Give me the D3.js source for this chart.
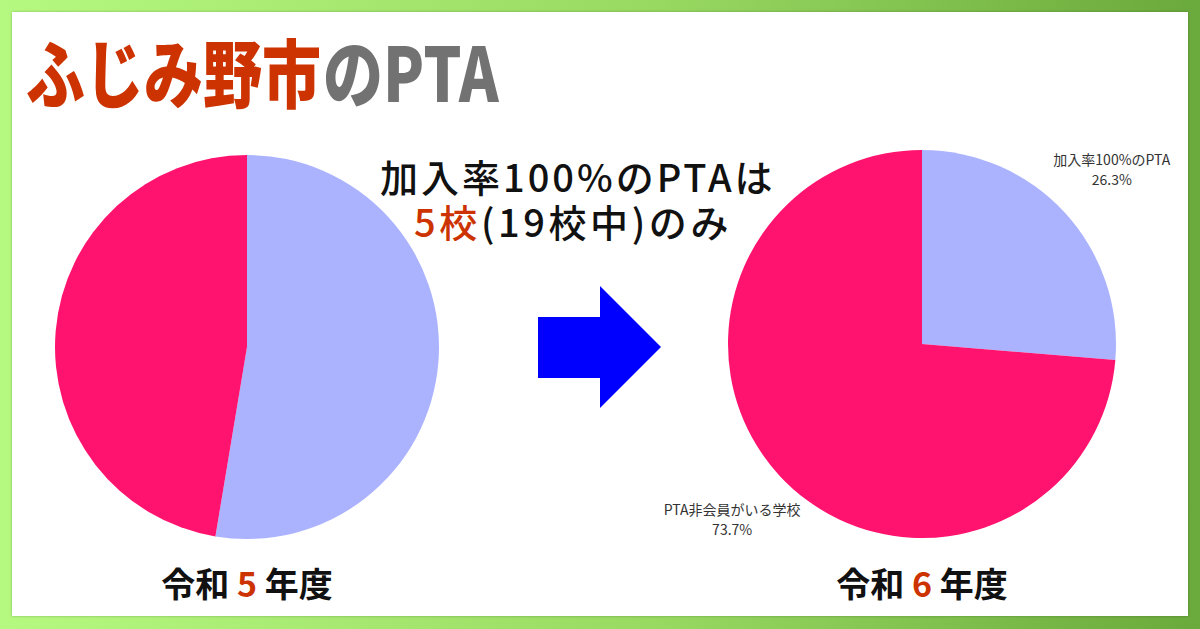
<!DOCTYPE html>
<html>
<head>
<meta charset="utf-8">
<script src="https://cdn.jsdelivr.net/npm/d3@7"></script>
<style>
  html, body { margin: 0; padding: 0; background: #fff; }
  svg { display: block; font-family: "Noto Sans CJK JP", "Noto Sans", sans-serif; }
</style>
</head>
<body>
<div id="grafico"></div>
<script>
// Datos del grafico
const categorias = ["加入率100%のPTA", "PTA非会員がいる学校"]
const valoresR5 = [10, 9]
const valoresR6 = [5, 14]
const colores = ["#abb3ff", "#ff136f"]
const anios = ["5", "6"]

const anchoTotal = 1200
const altoTotal = 629

const svg = d3.select("#grafico")
  .append("svg")
  .attr("width", anchoTotal)
  .attr("height", altoTotal)

// Fondo con degradado verde
const defs = svg.append("defs")
const grad = defs.append("linearGradient")
  .attr("id", "fondoVerde")
  .attr("x1", "0%").attr("x2", "100%").attr("y1", "0%").attr("y2", "0%")
grad.append("stop").attr("offset", "0%").attr("stop-color", "#b6f981")
grad.append("stop").attr("offset", "55%").attr("stop-color", "#98d962")
grad.append("stop").attr("offset", "100%").attr("stop-color", "#6aa93b")

const sombra = defs.append("filter").attr("id", "sombra")
  .attr("x", "-5%").attr("y", "-5%").attr("width", "110%").attr("height", "110%")
sombra.append("feDropShadow")
  .attr("dx", 0).attr("dy", 0).attr("stdDeviation", 1.5)
  .attr("flood-color", "#000").attr("flood-opacity", 0.25)

svg.append("rect")
  .attr("width", anchoTotal).attr("height", altoTotal)
  .attr("fill", "url(#fondoVerde)")

svg.append("rect")
  .attr("x", 12).attr("y", 12)
  .attr("width", 1176).attr("height", 604)
  .attr("fill", "#fff")
  .attr("filter", "url(#sombra)")

// Titulo (dos partes, estirado en vertical)
svg.append("text")
  .attr("transform", "translate(26, 102) scale(1, 1.25)")
  .attr("font-size", 59)
  .attr("font-weight", 900)
  .attr("fill", "#cc3300")
  .text("ふじみ野市")
svg.append("text")
  .attr("transform", "translate(323, 102) scale(1, 1.25)")
  .attr("font-size", 60)
  .attr("font-weight", 900)
  .attr("fill", "#727272")
  .text("のPTA")

// Subtitulo central
const sub = svg.append("text")
  .attr("font-size", 38)
  .attr("font-weight", 500)
  .attr("fill", "#111")
sub.append("tspan")
  .attr("x", 380).attr("y", 192)
  .attr("letter-spacing", 3)
  .text("加入率100%のPTAは")
sub.append("tspan")
  .attr("x", 414).attr("y", 237)
  .attr("letter-spacing", 3.6)
  .attr("fill", "#cc3300")
  .text(`${valoresR6[0]}校`)
sub.append("tspan")
  .attr("letter-spacing", 3.6)
  .text(`(${d3.sum(valoresR6)}校中)のみ`)

// Pies
const pie = d3.pie().sort(null).value((d) => d)
const total = (arr) => d3.sum(arr)

const dibujarPie = (valores, cx, cy, radio, conEtiquetas) => {
  const arc = d3.arc().innerRadius(0).outerRadius(radio)
  const g = svg.append("g").attr("transform", `translate(${cx}, ${cy})`)
  const datos = pie(valores)
  g.selectAll("path")
    .data(datos)
    .enter()
    .append("path")
    .attr("d", arc)
    .attr("fill", (d, i) => colores[i])

  if (conEtiquetas) {
    const arcEtiqueta = d3.arc().innerRadius(radio * 1.33).outerRadius(radio * 1.33)
    const et = g.selectAll("text.et")
      .data(datos)
      .enter()
      .append("text")
      .attr("class", "et")
      .attr("text-anchor", "middle")
      .attr("font-size", 14)
      .attr("fill", "#333")
      .attr("transform", (d) => `translate(${arcEtiqueta.centroid(d)})`)
    et.append("tspan").attr("x", 0).attr("y", -4).text((d, i) => categorias[i])
    et.append("tspan").attr("x", 0).attr("y", 16)
      .text((d) => d3.format(".1%")(d.value / total(valores)))
  }
}

dibujarPie(valoresR5, 247, 347, 192, false)
dibujarPie(valoresR6, 922, 344, 194, true)

// Flecha
svg.append("path")
  .attr("d", "M538,317 L600,317 L600,286 L661,347 L600,408 L600,378 L538,378 Z")
  .attr("fill", "#0000ff")

// Etiquetas de año
const etiquetaAnio = (anio, cx) => {
  const t = svg.append("text")
    .attr("x", cx).attr("y", 597)
    .attr("text-anchor", "middle")
    .attr("font-size", 34)
    .attr("font-weight", 700)
    .attr("fill", "#111")
  t.append("tspan").text("令和 ")
  t.append("tspan").attr("fill", "#cc3300").text(anio)
  t.append("tspan").text(" 年度")
}
etiquetaAnio(anios[0], 247)
etiquetaAnio(anios[1], 922)
</script>
</body>
</html>
